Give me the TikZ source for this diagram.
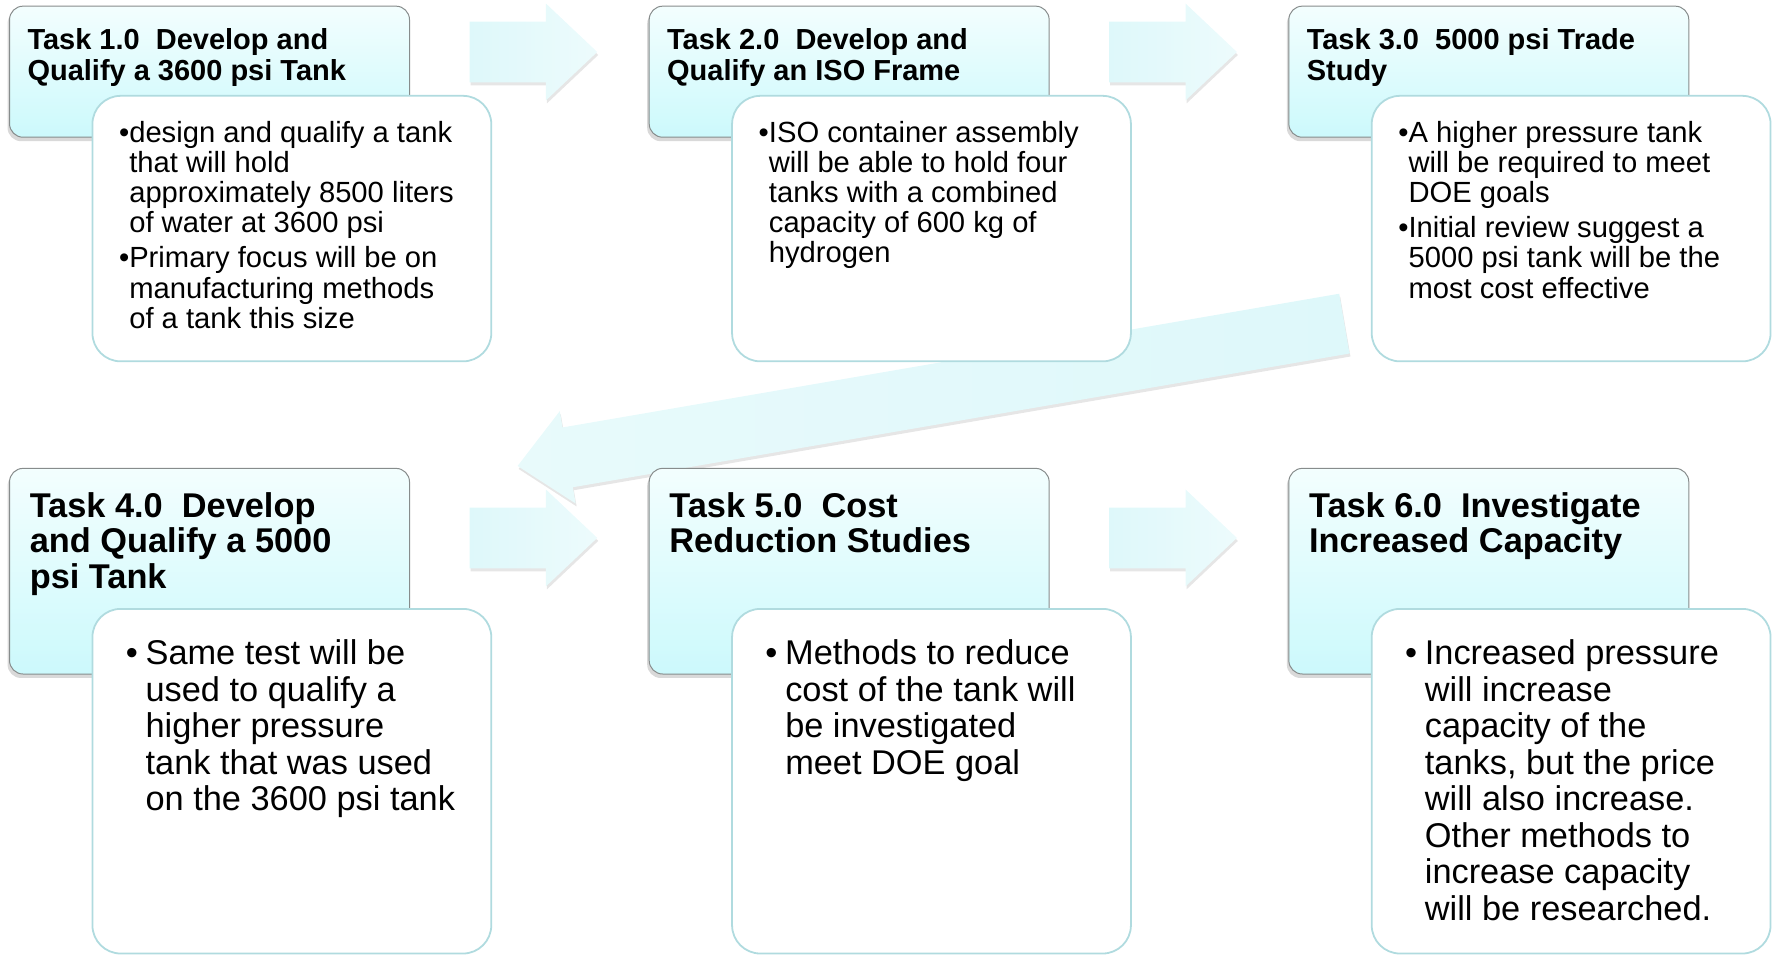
\documentclass[tikz,border=0pt]{standalone}
\usepackage{fontspec}
\setmainfont{Liberation Sans}
\usetikzlibrary{shapes.arrows,shadows}

\definecolor{headtop}{RGB}{243,254,254}
\definecolor{headbot}{RGB}{204,249,252}
\definecolor{headline}{RGB}{135,140,140}
\definecolor{noteline}{RGB}{176,219,223}
\definecolor{flowfill}{RGB}{222,248,250}

\begin{document}
\begin{tikzpicture}[x=0.02cm,y=-0.02cm]
    \tikzstyle{head}=[rectangle,draw=headline,line width=0.5pt,top color=headtop,bottom color=headbot,rounded corners=0.24cm,minimum width=7.08cm,anchor=north west,drop shadow={shadow xshift=-1pt,shadow yshift=-2pt,opacity=.3}]
    \tikzstyle{note}=[rectangle,draw=noteline,line width=0.9pt,fill=white,rounded corners=0.5cm,minimum width=7.06cm,anchor=north west]
    \tikzstyle{flow}=[single arrow,left color=flowfill,right color=flowfill!55!white,inner xsep=0pt,inner ysep=0.53cm,minimum width=1pt,minimum height=2.26cm,single arrow head extend=0.32cm,single arrow tip angle=86.7,anchor=tip,drop shadow={shadow xshift=0.5pt,shadow yshift=-1.5pt,opacity=.2}]
    \tikzstyle{headtext}=[anchor=base west,inner sep=0pt,font=\bfseries\fontsize{14.6}{15.4}\selectfont]
    \tikzstyle{headtextbig}=[anchor=base west,inner sep=0pt,font=\bfseries\fontsize{17.3}{17.6}\selectfont]
    \tikzstyle{notetext}=[anchor=base west,inner sep=0pt,font=\fontsize{14.7}{15.1}\selectfont]
    \tikzstyle{notetextbig}=[anchor=base west,inner sep=0pt,font=\fontsize{17.3}{18.4}\selectfont]

    \useasboundingbox (0,0) rectangle (1568,846);

    \begin{scope}
      % arrows between the tasks
      \node [flow] at (529,46) (a12) {};
      \node [flow] at (1095,46) (a23) {};
      \node [flow] at (529,476) (a45) {};
      \node [flow] at (1095,476) (a56) {};

      % back from task 3 to task 4
      \node [flow, left color=flowfill!70!white, right color=flowfill, minimum height=14.85cm, single arrow head extend=0.292cm, single arrow tip angle=85.3, rotate=189.77] at (457.5,412.4) (a34) {};

      % task heads
      \node [head, minimum height=2.32cm] at (8,5) (h1) {};
      \node [head, minimum height=2.32cm] at (574,5) (h2) {};
      \node [head, minimum height=2.32cm] at (1140,5) (h3) {};
      \node [head, minimum height=3.64cm] at (8,414) (h4) {};
      \node [head, minimum height=3.64cm] at (574,414) (h5) {};
      \node [head, minimum height=3.64cm] at (1140,414) (h6) {};

      % notes
      \node [note, minimum height=4.7cm] at (81,84) (n1) {};
      \node [note, minimum height=4.7cm] at (647,84) (n2) {};
      \node [note, minimum height=4.7cm] at (1213,84) (n3) {};
      \node [note, minimum height=6.1cm] at (81,538) (n4) {};
      \node [note, minimum height=6.1cm] at (647,538) (n5) {};
      \node [note, minimum height=6.1cm] at (1213,538) (n6) {};

      \node [headtext] at ([shift={(16,39)}]h1.north west) (h1text) {\begin{tabular}[t]{@{}l@{}}Task 1.0\ \ Develop and\\Qualify a 3600 psi Tank\end{tabular}};
      \node [headtext] at ([shift={(16,39)}]h2.north west) (h2text) {\begin{tabular}[t]{@{}l@{}}Task 2.0\ \ Develop and\\Qualify an ISO Frame\end{tabular}};
      \node [headtext] at ([shift={(16,39)}]h3.north west) (h3text) {\begin{tabular}[t]{@{}l@{}}Task 3.0\ \ 5000 psi Trade\\Study\end{tabular}};
      \node [headtextbig] at ([shift={(18,44)}]h4.north west) (h4text) {\begin{tabular}[t]{@{}l@{}}Task 4.0\ \ Develop\\and Qualify a 5000\\psi Tank\end{tabular}};
      \node [headtextbig] at ([shift={(18,44)}]h5.north west) (h5text) {\begin{tabular}[t]{@{}l@{}}Task 5.0\ \ Cost\\Reduction Studies\end{tabular}};
      \node [headtextbig] at ([shift={(18,44)}]h6.north west) (h6text) {\begin{tabular}[t]{@{}l@{}}Task 6.0\ \ Investigate\\Increased Capacity\end{tabular}};

      \node [notetext] at ([shift={(24,42)}]n1.north west) (n1text) {\begin{tabular}[t]{@{}l@{}l@{}}•&design and qualify a tank\\&that will hold\\&approximately 8500 liters\\&of water at 3600 psi\\[2.5pt]•&Primary focus will be on\\&manufacturing methods\\&of a tank this size\end{tabular}};
      \node [notetext] at ([shift={(24,42)}]n2.north west) (n2text) {\begin{tabular}[t]{@{}l@{}l@{}}•&ISO container assembly\\&will be able to hold four\\&tanks with a combined\\&capacity of 600 kg of\\&hydrogen\end{tabular}};
      \node [notetext] at ([shift={(24,42)}]n3.north west) (n3text) {\begin{tabular}[t]{@{}l@{}l@{}}•&A higher pressure tank\\&will be required to meet\\&DOE goals\\[2.5pt]•&Initial review suggest a\\&5000 psi tank will be the\\&most cost effective\end{tabular}};
      \node [notetextbig] at ([shift={(30,50)}]n4.north west) (n4text) {\begin{tabular}[t]{@{}l@{\hspace{3.9pt}}l@{}}•&Same test will be\\&used to qualify a\\&higher pressure\\&tank that was used\\&on the 3600 psi tank\end{tabular}};
      \node [notetextbig] at ([shift={(30,50)}]n5.north west) (n5text) {\begin{tabular}[t]{@{}l@{\hspace{3.9pt}}l@{}}•&Methods to reduce\\&cost of the tank will\\&be investigated\\&meet DOE goal\end{tabular}};
      \node [notetextbig] at ([shift={(30,50)}]n6.north west) (n6text) {\begin{tabular}[t]{@{}l@{\hspace{3.9pt}}l@{}}•&Increased pressure\\&will increase\\&capacity of the\\&tanks, but the price\\&will also increase.\\&Other methods to\\&increase capacity\\&will be researched.\end{tabular}};
    \end{scope}

\end{tikzpicture}
\end{document}
